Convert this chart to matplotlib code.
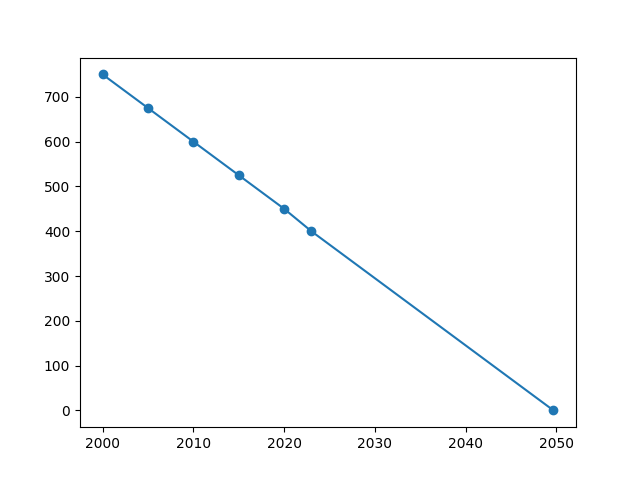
import matplotlib
matplotlib.use('Agg')
import matplotlib.pyplot as plt

years = [2000, 2005, 2010, 2015, 2020, 2023, 2049.67]
values = [750, 675, 600, 525, 450, 400, 0]

fig, ax = plt.subplots(figsize=(6.4, 4.8), dpi=100)
ax.plot(years, values, marker='o')
fig.savefig('out.png')
